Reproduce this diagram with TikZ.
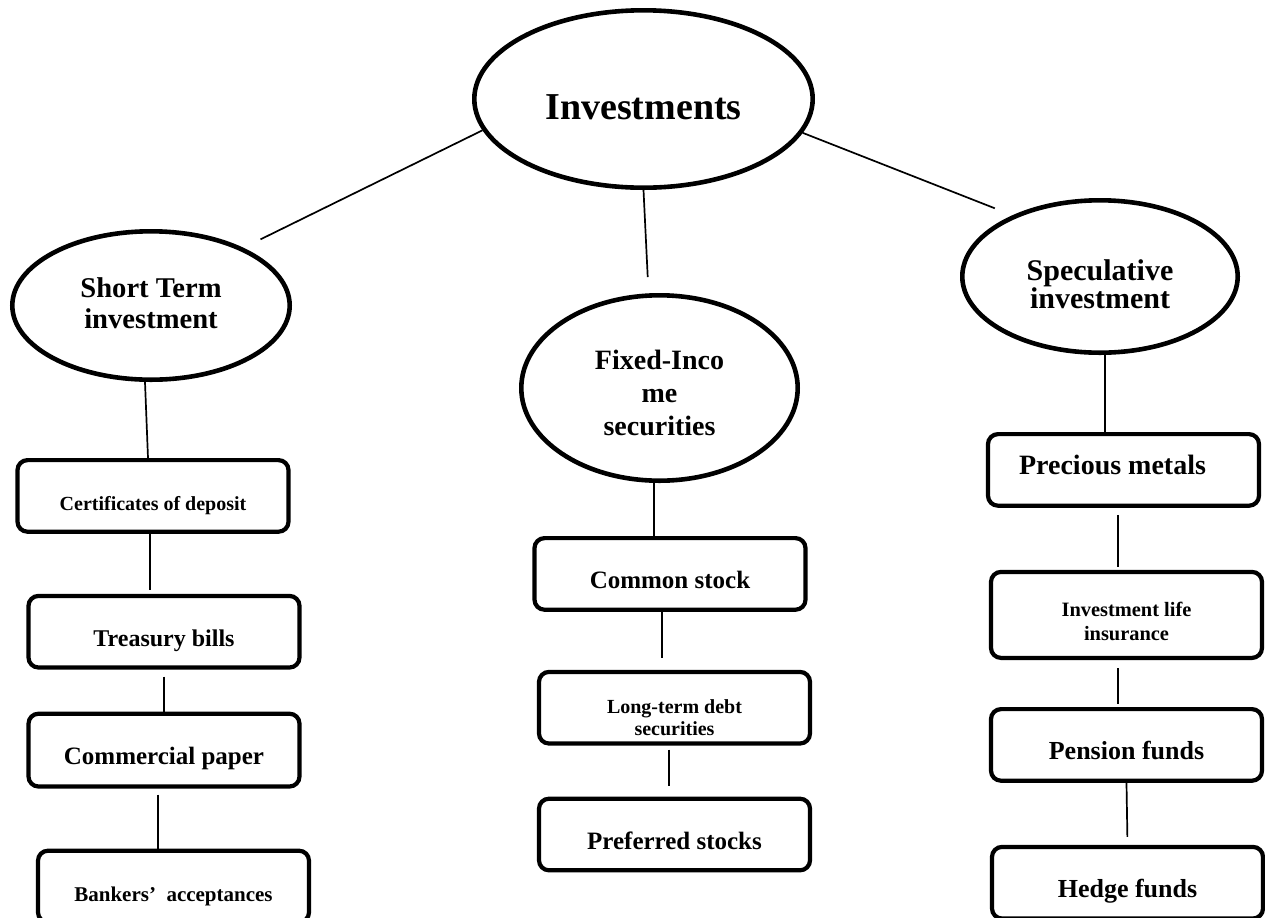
\documentclass[tikz,border=0pt]{standalone}
\usepackage{fontspec}
\setmainfont{Liberation Serif}
\usetikzlibrary{shapes.geometric, positioning}

\begin{document}
\begin{tikzpicture}[
    x=0.5pt, y=-0.5pt,
    node distance=30pt,
    oval/.style={ellipse, draw=black, line width=2.3pt, inner sep=2pt, text depth=0pt},
    twooval/.style={oval, align=center},
    box/.style={rectangle, rounded corners=5pt, draw=black, line width=2.1pt, minimum width=135.5pt, minimum height=35.8pt, inner sep=2pt, text depth=0pt},
    onebox/.style={box, text height=14.5pt},
    twobox/.style={box, align=center},
    link/.style={line width=0.85pt}
]
\useasboundingbox (0,0) rectangle (1265,917);

% Root
\node[oval, minimum width=169.2pt, minimum height=88.7pt, text height=20pt, font=\fontsize{19}{22}\selectfont\bfseries] (inv) at (643.5,99) {Investments};

% Short term branch
\node[twooval, minimum width=138.7pt, minimum height=74.2pt, text height=22.5pt, font=\fontsize{14.3}{15.5}\selectfont\bfseries] (short) at (151,305.5) {Short Term\\investment};
\node[onebox, below=38pt of short, xshift=1pt, font=\fontsize{10}{12}\selectfont\bfseries] (cod) {Certificates of deposit};
\node[onebox, below=30pt of cod, xshift=5.5pt, font=\fontsize{12}{14}\selectfont\bfseries] (tb) {Treasury bills};
\node[onebox, below=21pt of tb, minimum height=36.4pt, font=\fontsize{12.5}{14}\selectfont\bfseries] (cp) {Commercial paper};
\node[onebox, below=30pt of cp, xshift=4.75pt, font=\fontsize{10.5}{12}\selectfont\bfseries] (ba) {Bankers’~ acceptances};

% Fixed income branch
\node[twooval, minimum width=138.2pt, minimum height=92.7pt, text height=47pt, font=\fontsize{14}{16.5}\selectfont\bfseries] (fixed) at (659.5,388) {Fixed-Inco\\me\\securities};
\node[onebox, below=26.5pt of fixed, xshift=5.25pt, font=\fontsize{12.5}{14}\selectfont\bfseries] (cs) {Common stock};
\node[twobox, below=29pt of cs, xshift=2.25pt, text height=27.5pt, font=\fontsize{10}{11}\selectfont\bfseries] (ltd) {Long-term debt\\securities};
\node[onebox, below=25.5pt of ltd, font=\fontsize{12.5}{14}\selectfont\bfseries] (ps) {Preferred stocks};

% Speculative branch
\node[twooval, minimum width=137.7pt, minimum height=76.2pt, text height=31.5pt, font=\fontsize{15}{14}\selectfont\bfseries] (spec) at (1100,276.5) {Speculative\\investment};
\node[onebox, below=38.5pt of spec, xshift=11.75pt, text height=5pt, font=\fontsize{14}{16}\selectfont\bfseries] (pm) {Precious metals\kern11pt};
\node[twobox, below=31pt of pm, xshift=1.5pt, minimum height=43pt, text height=26pt, font=\fontsize{10.2}{12}\selectfont\bfseries] (life) {Investment life\\insurance};
\node[onebox, below=23.5pt of life, font=\fontsize{13}{15}\selectfont\bfseries] (pf) {Pension funds};
\node[onebox, below=31pt of pf, xshift=0.5pt, font=\fontsize{13}{15}\selectfont\bfseries] (hf) {Hedge funds};

% Links from root
\draw[link, shorten >=9.5pt] (inv.191) -- (short.32);
\draw[link, shorten >=8pt] (inv.south) -- ([xshift=-5.5pt]fixed.north);
\draw[link, shorten >=9.5pt] (inv.348) -- (spec.145);

% Links inside branches
\draw[link] ([xshift=-3pt]short.south) -- ([xshift=-2.5pt]cod.north);
\draw[link, shorten >=2pt] ([xshift=-1.5pt]cod.south) -- ([xshift=-7pt]tb.north);
\draw[link, shorten <=3.5pt] (tb.south) -- (cp.north);
\draw[link, shorten <=3pt] ([xshift=-3pt]cp.south) -- ([xshift=-7.75pt]ba.north);
\draw[link] ([xshift=-2.75pt]fixed.south) -- ([xshift=-8pt]cs.north);
\draw[link, shorten >=6pt] ([xshift=-4pt]cs.south) -- ([xshift=-6.25pt]ltd.north);
\draw[link, shorten <=2pt, shorten >=5.5pt] ([xshift=-2.75pt]ltd.south) -- ([xshift=-2.75pt]ps.north);
\draw[link] ([xshift=2.5pt]spec.south) -- ([xshift=-9.25pt]pm.north);
\draw[link, shorten <=3.5pt, shorten >=1.5pt] ([xshift=-2.75pt]pm.south) -- ([xshift=-4.25pt]life.north);
\draw[link, shorten <=4pt, shorten >=1.5pt] ([xshift=-4.25pt]life.south) -- ([xshift=-4.25pt]pf.north);
\draw[link, shorten >=4pt] (pf.south) -- (hf.north);

\end{tikzpicture}
\end{document}
